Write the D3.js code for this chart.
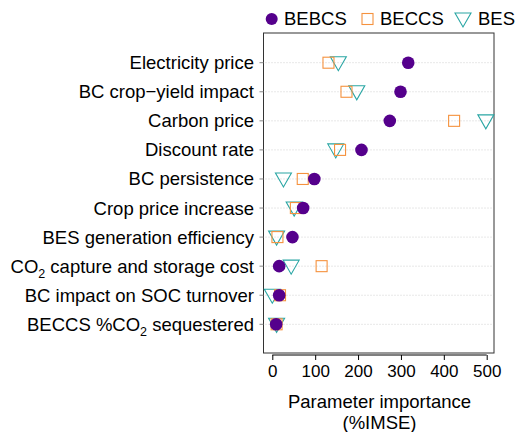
<!DOCTYPE html>
<html>
<head>
<meta charset="utf-8">
<script src="https://cdn.jsdelivr.net/npm/d3@7"></script>
<style>
  body { margin: 0; background: #fff; }
  text { font-family: "Liberation Sans", Arial, sans-serif; fill: #000; }
</style>
</head>
<body>
<div id="chart"></div>
<script>
// parameters, top to bottom ("CO2" gets a subscript when drawn)
var params = [
  "Electricity price",
  "BC crop\u2212yield impact",
  "Carbon price",
  "Discount rate",
  "BC persistence",
  "Crop price increase",
  "BES generation efficiency",
  "CO2 capture and storage cost",
  "BC impact on SOC turnover",
  "BECCS %CO2 sequestered"
];

var bebcs = [317, 299, 274, 208, 98, 72, 47, 16, 16, 9];
var beccs = [131, 173, 424, 158, 71, 55, 12, 115, 18, 10];
var bes   = [154, 197, 498, 148, 26, 51, 10, 44, 0, 10];

var xTicks = [0, 100, 200, 300, 400, 500];

var colBEBCS = "#55008c",
    colBECCS = "#f5923e",
    colBES   = "#2aa6a4";

var w = 515, h = 432;
var panel = {left: 263.5, right: 494, top: 33, bottom: 353};

var svg = d3.select("#chart").append("svg")
  .attr("width", w)
  .attr("height", h);

var x = d3.scaleLinear().domain([0, 500]).range([272.3, 486.7]);
var y = d3.scalePoint().domain(params).range([62.7, 324.3]);

// dotted gridlines
svg.selectAll("line.grid")
  .data(params)
  .enter().append("line")
  .attr("class", "grid")
  .attr("x1", panel.left + 2).attr("x2", panel.right - 2)
  .attr("y1", function(d){ return y(d); })
  .attr("y2", function(d){ return y(d); })
  .attr("stroke", "#cfcfcf")
  .attr("stroke-width", 1)
  .attr("stroke-dasharray", "1,2");

// frame
svg.append("rect")
  .attr("x", panel.left).attr("y", panel.top)
  .attr("width", panel.right - panel.left)
  .attr("height", panel.bottom - panel.top)
  .attr("fill", "none")
  .attr("stroke", "#333")
  .attr("stroke-width", 1);

// y tick marks + labels
svg.selectAll("line.ytick")
  .data(params)
  .enter().append("line")
  .attr("x1", panel.left - 4).attr("x2", panel.left)
  .attr("y1", function(d){ return y(d); })
  .attr("y2", function(d){ return y(d); })
  .attr("stroke", "#888");

var ylab = svg.selectAll("text.ylab")
  .data(params)
  .enter().append("text")
  .attr("class", "ylab")
  .attr("x", 254)
  .attr("y", function(d){ return y(d); })
  .attr("dy", "0.35em")
  .attr("text-anchor", "end")
  .style("font-size", "18.5px");

ylab.each(function(d){
  var t = d3.select(this);
  var parts = d.split("CO2");
  parts.forEach(function(p, i){
    if (i > 0) {
      t.append("tspan").text("CO");
      t.append("tspan").text("2").attr("dy", 5).style("font-size", "12.5px");
      t.append("tspan").attr("dy", -5).text(p);
    } else {
      t.append("tspan").text(p);
    }
  });
});

// x axis
var xAxis = d3.axisBottom(x).tickValues(xTicks).tickSize(5).tickPadding(5);
var gx = svg.append("g")
  .attr("transform", "translate(0," + 355 + ")")
  .call(xAxis);
gx.select(".domain").attr("stroke", "#000").attr("d", "M" + x(0) + ",0H" + x(500));
gx.selectAll(".tick line").attr("stroke", "#000");
gx.selectAll(".tick text")
  .style("font-size", "17px")
  .style("font-family", "Liberation Sans, Arial, sans-serif")
  .attr("fill", "#000");

svg.append("text")
  .attr("x", x(250)).attr("y", 407.5)
  .attr("text-anchor", "middle")
  .style("font-size", "18.5px")
  .text("Parameter importance");
svg.append("text")
  .attr("x", x(250)).attr("y", 428.5)
  .attr("text-anchor", "middle")
  .style("font-size", "18.5px")
  .text("(%IMSE)");

// markers
var triPath = "M-8,-6L8,-6L0,8Z";

svg.selectAll("path.bes")
  .data(bes)
  .enter().append("path")
  .attr("class", "bes")
  .attr("d", triPath)
  .attr("transform", function(d, i){ return "translate(" + x(d) + "," + y(params[i]) + ")"; })
  .attr("fill", "none")
  .attr("stroke", colBES)
  .attr("stroke-width", 1.1);

svg.selectAll("rect.beccs")
  .data(beccs)
  .enter().append("rect")
  .attr("class", "beccs")
  .attr("x", function(d){ return x(d) - 5.5; })
  .attr("y", function(d, i){ return y(params[i]) - 5.5; })
  .attr("width", 11).attr("height", 11)
  .attr("fill", "none")
  .attr("stroke", colBECCS)
  .attr("stroke-width", 1.1);

svg.selectAll("circle.bebcs")
  .data(bebcs)
  .enter().append("circle")
  .attr("class", "bebcs")
  .attr("cx", function(d){ return x(d); })
  .attr("cy", function(d, i){ return y(params[i]); })
  .attr("r", 6.3)
  .attr("fill", colBEBCS);

// legend
var leg = svg.append("g");
leg.append("circle").attr("cx", 271.7).attr("cy", 19).attr("r", 6).attr("fill", colBEBCS);
leg.append("text").attr("x", 284).attr("y", 19).attr("dy", "0.35em").style("font-size", "18.5px").text("BEBCS");
leg.append("rect").attr("x", 362).attr("y", 13.5).attr("width", 11).attr("height", 11)
  .attr("fill", "none").attr("stroke", colBECCS).attr("stroke-width", 1.1);
leg.append("text").attr("x", 380).attr("y", 19).attr("dy", "0.35em").style("font-size", "18.5px").text("BECCS");
leg.append("path").attr("d", triPath).attr("transform", "translate(463,19)")
  .attr("fill", "none").attr("stroke", colBES).attr("stroke-width", 1.1);
leg.append("text").attr("x", 478).attr("y", 19).attr("dy", "0.35em").style("font-size", "18.5px").text("BES");
</script>
</body>
</html>
